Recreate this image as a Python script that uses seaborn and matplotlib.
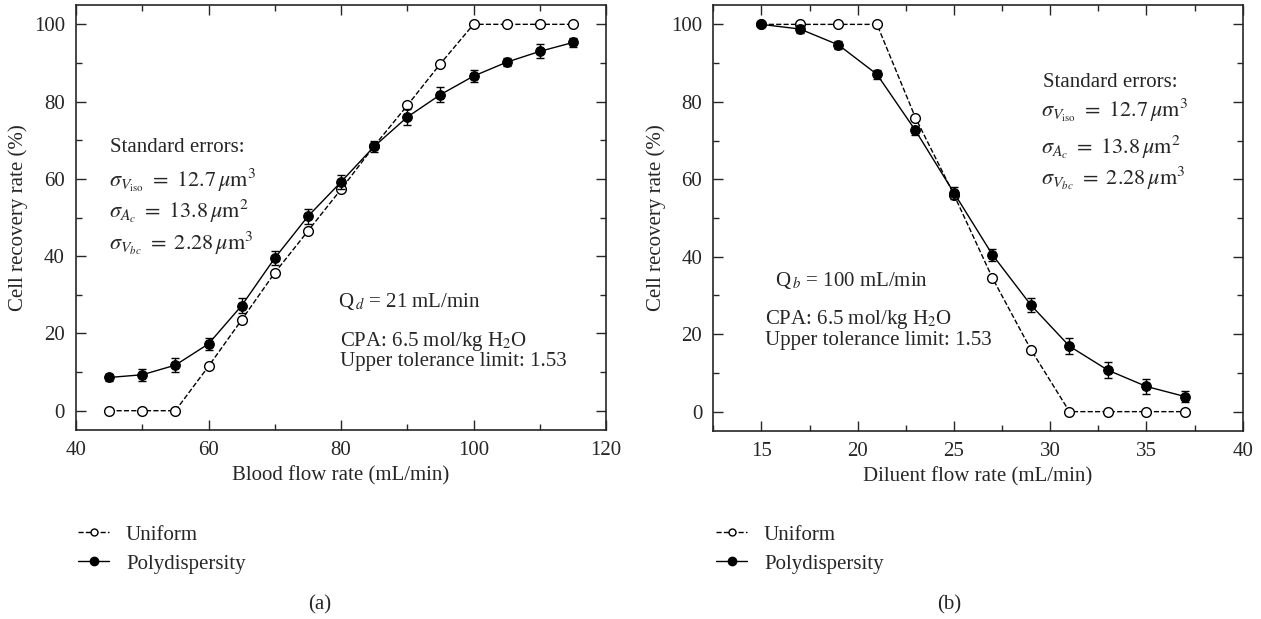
import numpy as np
import seaborn as sns
import matplotlib.pyplot as plt
from matplotlib.lines import Line2D
from matplotlib.ticker import MultipleLocator

# (a) blood flow rate
blood_x = [45, 50, 55, 60, 65, 70, 75, 80, 85, 90, 95, 100, 105, 110, 115]
blood_uniform = [0, 0, 0, 11.5, 23.5, 35.7, 46.5, 57.3, 68.5, 79.0, 89.8, 100, 100, 100, 100]
blood_poly = [8.6, 9.3, 11.8, 17.3, 27.2, 39.5, 50.3, 59.2, 68.4, 76.0, 81.8, 86.6, 90.2, 93.0, 95.3]
blood_err = [1.0, 1.5, 1.8, 1.5, 2.0, 1.8, 2.0, 1.8, 1.5, 2.0, 2.0, 1.5, 1.0, 1.8, 1.2]

# (b) diluent flow rate
dil_x = [15, 17, 19, 21, 23, 25, 27, 29, 31, 33, 35, 37]
dil_uniform = [100, 100, 100, 100, 75.9, 56.0, 34.5, 16.0, 0, 0, 0, 0]
dil_poly = [100, 98.8, 94.7, 87.1, 72.6, 56.5, 40.5, 27.5, 16.9, 10.7, 6.5, 3.9]
dil_err = [0.5, 1.0, 1.0, 1.2, 1.2, 1.5, 1.5, 1.8, 2.0, 2.0, 2.0, 1.5]

sns.set_style("ticks")
plt.rcParams['font.family'] = ['Liberation Serif', 'DejaVu Serif']
plt.rcParams['mathtext.fontset'] = 'stix'

fig = plt.figure(figsize=(12.61, 6.19), dpi=100)
axa = fig.add_axes([0.0603, 0.3053, 0.4203, 0.6866])
axb = fig.add_axes([0.5657, 0.3037, 0.4198, 0.6882])

FS = 15


def draw(ax, x, uni, poly, err):
    sns.lineplot(x=x, y=uni, ax=ax, color='black', lw=1, linestyle='--',
                 marker='o', markersize=7, markerfacecolor='white',
                 markeredgecolor='black', markeredgewidth=1)
    sns.lineplot(x=x, y=poly, ax=ax, color='black', lw=1,
                 marker='o', markersize=7, markerfacecolor='black',
                 markeredgecolor='black')
    ax.errorbar(x, poly, yerr=err, fmt='none', ecolor='black', elinewidth=1,
                capsize=3, capthick=1)
    ax.set_ylim(-5, 105)
    ax.yaxis.set_major_locator(MultipleLocator(20))
    ax.yaxis.set_minor_locator(MultipleLocator(10))
    ax.tick_params(which='both', direction='in', top=True, right=True,
                   labelsize=FS, width=1)
    ax.tick_params(which='major', length=7, pad=8)
    ax.tick_params(which='minor', length=4)
    for s in ax.spines.values():
        s.set_linewidth(1.2)
    ax.set_ylabel('Cell recovery rate (%)', fontsize=FS)


draw(axa, blood_x, blood_uniform, blood_poly, blood_err)
axa.set_xlim(40, 120)
axa.xaxis.set_major_locator(MultipleLocator(20))
axa.xaxis.set_minor_locator(MultipleLocator(10))
axa.set_xlabel('Blood flow rate (mL/min)', fontsize=FS)

draw(axb, dil_x, dil_uniform, dil_poly, dil_err)
axb.set_xlim(12.5, 40)
axb.xaxis.set_major_locator(MultipleLocator(5))
axb.xaxis.set_minor_locator(MultipleLocator(2.5))
axb.set_xlabel('Diluent flow rate (mL/min)', fontsize=FS)

sig = [r'$\sigma_{V_{\rm iso}}\ =\ 12.7\,\mu{\rm m}^3$',
       r'$\sigma_{A_c}\ =\ 13.8\,\mu{\rm m}^2$',
       r'$\sigma_{V_{bc}}\ =\ 2.28\,\mu{\rm m}^3$']

# annotations (a)
axa.text(45.1, 68, 'Standard errors:', fontsize=FS, va='center')
for yy, s in zip([59.7, 51.5, 43.4], sig):
    axa.text(44.9, yy, s, fontsize=FS + 1, va='center')
axa.text(79.5, 28.2, r'Q$_{\,d}$ = 21 mL/min', fontsize=FS, va='center')
axa.text(79.8, 17.9, r'CPA: 6.5 mol/kg H$_2$O', fontsize=FS, va='center')
axa.text(79.8, 12.7, 'Upper tolerance limit: 1.53', fontsize=FS, va='center')

# annotations (b)
axb.text(29.6, 85.1, 'Standard errors:', fontsize=FS, va='center')
for yy, s in zip([77.8, 68.3, 60.2], sig):
    axb.text(29.5, yy, s, fontsize=FS + 1, va='center')
axb.text(15.7, 33.9, r'Q$_{\,b}$ = 100 mL/min', fontsize=FS, va='center')
axb.text(15.2, 23.7, r'CPA: 6.5 mol/kg H$_2$O', fontsize=FS, va='center')
axb.text(15.2, 18.3, 'Upper tolerance limit: 1.53', fontsize=FS, va='center')

handles = [Line2D([], [], color='black', lw=1, ls='--', marker='o', markersize=5,
                  markerfacecolor='white', markeredgecolor='black'),
           Line2D([], [], color='black', lw=1, marker='o', markersize=6,
                  markerfacecolor='black')]
labels = ['Uniform', 'Polydispersity']
for ax, lx in [(axa, 78), (axb, 716)]:
    ax.legend(handles, labels, loc='upper left', frameon=False, fontsize=FS,
              bbox_to_anchor=(lx / 1261, 1 - 525 / 619),
              bbox_transform=fig.transFigure, borderpad=0, borderaxespad=0,
              handlelength=1.5, handletextpad=0.8, labelspacing=0.45)

fig.text(320 / 1261, 1 - 605 / 619, '(a)', fontsize=FS, ha='center', va='center')
fig.text(949 / 1261, 1 - 605 / 619, '(b)', fontsize=FS, ha='center', va='center')

fig.savefig('out.png', dpi=100)
